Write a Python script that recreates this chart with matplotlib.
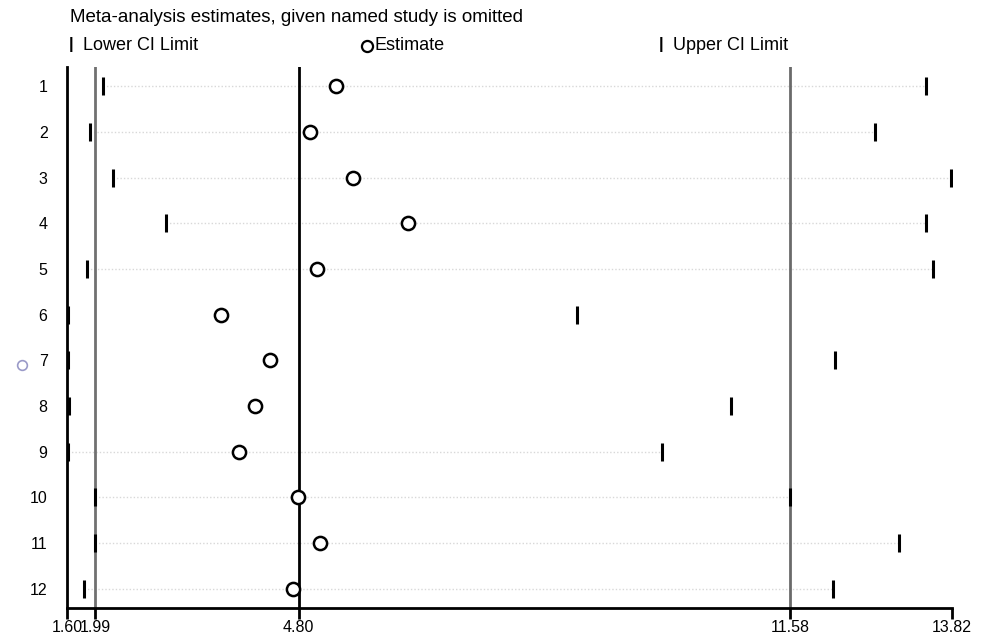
import matplotlib
matplotlib.use("Agg")
import matplotlib.pyplot as plt
from matplotlib.lines import Line2D

# ---- data ----
studies = [1, 2, 3, 4, 5, 6, 7, 8, 9, 10, 11, 12]
lower = [2.10, 1.92, 2.24, 2.97, 1.88, 1.61, 1.61, 1.63, 1.61, 1.99, 1.99, 1.83]
estimate = [5.31, 4.96, 5.55, 6.31, 5.05, 3.73, 4.40, 4.20, 3.98, 4.79, 5.09, 4.72]
upper = [13.46, 12.76, 13.81, 13.46, 13.56, 8.64, 12.20, 10.77, 9.82, 11.58, 13.09, 12.18]
guide_rows = [1, 2, 3, 4, 5, 9, 10, 11, 12]
xticks = [1.60, 1.99, 4.80, 11.58, 13.82]
xticklabels = ["1.60", "1.99", "4.80", "11.58", "13.82"]
ref_lines = [1.99, 4.80, 11.58]
ref_colors = ["#707070", "black", "#6a6a6a"]
title = "Meta-analysis estimates, given named study is omitted"

plt.rcParams['font.family'] = ['Liberation Sans', 'DejaVu Sans']

fig = plt.figure(figsize=(9.85, 6.4), dpi=100)
ax = fig.add_axes([67/985, 1-608/640, (952-67)/985, (608-67)/640])
ax.set_xlim(1.60, 13.82)
ax.set_ylim(12.42, 0.58)

# guide dotted lines
for s, lo, up in zip(studies, lower, upper):
    if s in guide_rows:
        ax.plot([lo, up], [s, s], color="#d8d8d8", lw=1.0, ls=(0, (1, 1.5)), zorder=1)

for xv, c in zip(ref_lines, ref_colors):
    ax.axvline(xv, color=c, lw=2.0, zorder=2)

ax.plot(lower, studies, ls="none", marker="|", ms=13, mew=2.2, color="black", zorder=3)
ax.plot(upper, studies, ls="none", marker="|", ms=13, mew=2.2, color="black", zorder=3)
ax.plot(estimate, studies, ls="none", marker="o", ms=9.5, mew=1.8,
        mfc="white", mec="black", zorder=4)

for sp in ["top", "right"]:
    ax.spines[sp].set_visible(False)
ax.spines["left"].set_linewidth(2.0)
ax.spines["bottom"].set_linewidth(2.0)

ax.set_xticks(xticks)
ax.set_xticklabels(xticklabels, fontsize=11.5)
ax.tick_params(axis="x", direction="out", length=8, width=2, pad=1)
ax.set_yticks(studies)
ax.set_yticklabels([str(s) for s in studies], fontsize=11.5)
ax.tick_params(axis="y", length=0, pad=14)

# title & legend
fig.text(70/985, 1-18/640, title, fontsize=13.5, va="center", ha="left")
fig.text(69/985, 1-45/640, "|", fontsize=12, va="center", ha="left", fontweight="bold")
fig.text(83/985, 1-45/640, "Lower CI Limit", fontsize=13, va="center", ha="left")
fig.add_artist(Line2D([367/985], [1-46/640], marker="o", ms=8, mew=1.6, mfc="white",
                      mec="black", transform=fig.transFigure))
fig.text(375/985, 1-45/640, "Estimate", fontsize=13, va="center", ha="left")
fig.text(659/985, 1-45/640, "|", fontsize=12, va="center", ha="left", fontweight="bold")
fig.text(673/985, 1-45/640, "Upper CI Limit", fontsize=13, va="center", ha="left")

# small stray circle on left
fig.add_artist(Line2D([22/985], [1-365/640], marker="o", ms=7, mew=1.2, mfc="white",
                      mec="#9a9ac8", transform=fig.transFigure))

fig.savefig("out.png", dpi=100)
